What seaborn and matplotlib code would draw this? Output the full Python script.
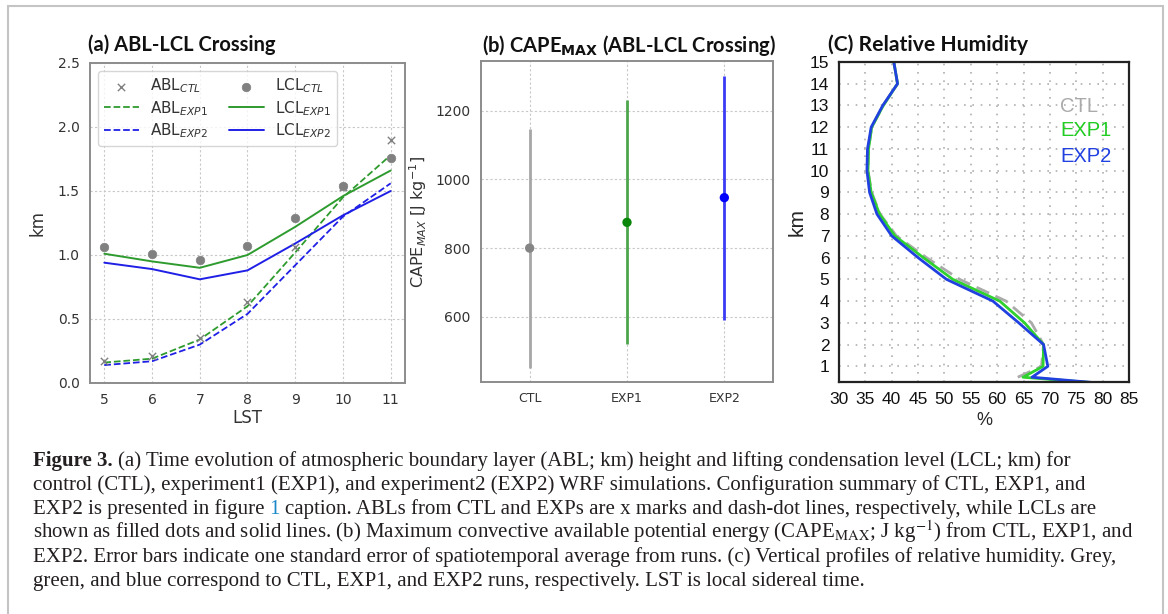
import matplotlib
matplotlib.use('Agg')
import matplotlib.pyplot as plt
import seaborn as sns
import numpy as np
import pandas as pd
from matplotlib.patches import Rectangle

W, H = 1168, 614

# ---------------- data ----------------
# Panel (a)
lst = [5, 6, 7, 8, 9, 10, 11]
abl_ctl = [0.17, 0.21, 0.35, 0.63, 1.06, 1.53, 1.90]
abl_exp1 = [0.16, 0.19, 0.34, 0.60, 1.02, 1.45, 1.78]
abl_exp2 = [0.14, 0.17, 0.30, 0.54, 0.92, 1.30, 1.56]
lcl_ctl = [1.06, 1.01, 0.96, 1.07, 1.29, 1.54, 1.76]
lcl_exp1 = [1.01, 0.95, 0.90, 1.00, 1.22, 1.46, 1.66]
lcl_exp2 = [0.94, 0.89, 0.81, 0.88, 1.09, 1.31, 1.50]

# Panel (b)
cases = ['CTL', 'EXP1', 'EXP2']
cape_mean = [800, 875, 947]
cape_se = [348, 355, 355]

# Panel (c)
height_km = [0.25, 0.5, 1, 2, 3, 4, 5, 6, 7, 8, 9, 10, 11, 12, 13, 14, 15]
rh_ctl = [np.nan, 63.9, 68.4, 68.8, 66.5, 61.7, 52.9, 46.6, 40.9, 37.8, 36.2,
          35.5, 35.6, 36.2, 38.4, 41.1, 40.4]
rh_exp1 = [78.0, 64.9, 68.7, 68.8, 65.2, 60.5, 51.6, 46.0, 40.6, 37.7, 36.1,
           35.5, 35.6, 36.2, 38.4, 41.1, 40.4]
rh_exp2 = [78.5, 66.6, 69.6, 68.8, 64.1, 59.2, 50.4, 45.0, 40.0, 37.2, 35.8,
           35.3, 35.4, 36.1, 38.3, 41.1, 40.4]

caption_bold = "Figure 3."
caption_lines = [
    "(a) Time evolution of atmospheric boundary layer (ABL; km) height and lifting condensation level (LCL; km) for",
    "control (CTL), experiment1 (EXP1), and experiment2 (EXP2) WRF simulations. Configuration summary of CTL, EXP1, and",
    None,
    r"shown as filled dots and solid lines. (b) Maximum convective available potential energy (CAPE$_{\mathrm{MAX}}$; J kg$^{-1}$) from CTL, EXP1, and",
    "EXP2. Error bars indicate one standard error of spatiotemporal average from runs. (c) Vertical profiles of relative humidity. Grey,",
    "green, and blue correspond to CTL, EXP1, and EXP2 runs, respectively. LST is local sidereal time.",
]
line3_parts = ["EXP2 is presented in figure", "1",
               "caption. ABLs from CTL and EXPs are x marks and dash-dot lines, respectively, while LCLs are"]

# ---------------- style ----------------
sns.set_style('white')
plt.rcParams['font.family'] = ['DejaVu Sans']

fig = plt.figure(figsize=(W / 100, H / 100), dpi=100)
fig.patch.set_facecolor('white')

def px_axes(l, t, r, b):
    return fig.add_axes([l / W, 1 - b / H, (r - l) / W, (b - t) / H])

GREEN = '#2e9b2e'
BLUE = '#1f1fe6'
GRAY = '#808080'
SPINE = '#8c8c8c'

def style_ab(ax):
    for s in ax.spines.values():
        s.set_color(SPINE)
        s.set_linewidth(1.4)
    ax.grid(True, color='#c8c8c8', linestyle=(0, (2, 2)), linewidth=0.8)
    ax.set_axisbelow(True)
    ax.tick_params(axis='both', direction='out', length=4, width=1,
                   color=SPINE, labelcolor='#333333', labelsize=10)
    for t in ax.get_xticklabels() + ax.get_yticklabels():
        t.set_family('DejaVu Sans')

# ---------------- panel (a) ----------------
axa = px_axes(90, 63, 405, 383)
sns.scatterplot(x=lst, y=abl_ctl, marker='x', color=GRAY, s=28, linewidth=1.0,
                label=r'ABL$_{CTL}$', ax=axa, zorder=4)
sns.lineplot(x=lst, y=abl_exp1, color=GREEN, linestyle='--', linewidth=1.3,
             label=r'ABL$_{EXP1}$', ax=axa)
sns.lineplot(x=lst, y=abl_exp2, color=BLUE, linestyle='--', linewidth=1.3,
             label=r'ABL$_{EXP2}$', ax=axa)
sns.scatterplot(x=lst, y=lcl_ctl, marker='o', color=GRAY, s=38, edgecolor=GRAY,
                label=r'LCL$_{CTL}$', ax=axa, zorder=4)
sns.lineplot(x=lst, y=lcl_exp1, color=GREEN, linewidth=1.4,
             label=r'LCL$_{EXP1}$', ax=axa)
sns.lineplot(x=lst, y=lcl_exp2, color=BLUE, linewidth=1.4,
             label=r'LCL$_{EXP2}$', ax=axa)
axa.set_xlim(4.7, 11.3)
axa.set_ylim(0, 2.5)
axa.set_xticks(lst)
axa.set_yticks([0.0, 0.5, 1.0, 1.5, 2.0, 2.5])
axa.set_yticklabels(['0.0', '0.5', '1.0', '1.5', '2.0', '2.5'])
style_ab(axa)
axa.set_xlabel('LST', fontsize=12, color='#333333', labelpad=1, family='DejaVu Sans')
axa.set_ylabel('km', fontsize=12, color='#333333', labelpad=8, family='DejaVu Sans')
h, l = axa.get_legend_handles_labels()
order = [l.index(k) for k in [r'ABL$_{CTL}$', r'ABL$_{EXP1}$', r'ABL$_{EXP2}$',
                              r'LCL$_{CTL}$', r'LCL$_{EXP1}$', r'LCL$_{EXP2}$']]
leg = axa.legend([h[i] for i in order], [l[i] for i in order], ncol=2,
                 loc='upper left', fontsize=11, handlelength=2.3, handletextpad=0.7,
                 columnspacing=1.4, borderaxespad=0.5, labelspacing=0.22,
                 borderpad=0.4, frameon=True, fancybox=True, scatterpoints=1)
leg.get_frame().set_edgecolor('#cccccc')
for t in leg.get_texts():
    t.set_color('#333333')
    t.set_family('DejaVu Sans')

# ---------------- panel (b) ----------------
axb = px_axes(481, 61, 773, 382)
bar_cols = ['#a6a6a6', '#4ca64c', '#3b3bf5']
dot_cols = ['#858585', '#0a870a', '#0000ff']
lo = [m - s for m, s in zip(cape_mean, cape_se)]
hi = [m + s for m, s in zip(cape_mean, cape_se)]
dfb = pd.DataFrame({'case': cases, 'cape': cape_mean})
sns.scatterplot(data=dfb, x='case', y='cape', hue='case', palette=dot_cols,
                s=45, edgecolor='none', legend=False, ax=axb, zorder=4)
axb.vlines(cases, lo, hi, colors=bar_cols, linewidth=2.0, zorder=3)
axb.set_xlim(-0.5, 2.5)
axb.set_ylim(410, 1345)
axb.set_yticks([600, 800, 1000, 1200])
style_ab(axb)
axb.tick_params(axis='x', labelsize=9)
axb.set_xlabel('')
axb.set_ylabel(r'CAPE$_{MAX}$ [J kg$^{-1}$]', fontsize=11.5, color='#333333',
               labelpad=5, family='DejaVu Sans')

# ---------------- panel (c) ----------------
axc = px_axes(839, 62, 1129, 382)
dfc = pd.DataFrame({'h': height_km, 'CTL': rh_ctl, 'EXP1': rh_exp1, 'EXP2': rh_exp2})
sns.lineplot(data=dfc, x='CTL', y='h', orient='y', estimator=None, sort=False,
             color='#aaaaaa', linewidth=2.0, linestyle=(0, (5, 2.5)), ax=axc)
sns.lineplot(data=dfc, x='EXP1', y='h', orient='y', estimator=None, sort=False,
             color='#2ed12e', linewidth=2.0, ax=axc)
sns.lineplot(data=dfc, x='EXP2', y='h', orient='y', estimator=None, sort=False,
             color='#2040e0', linewidth=2.0, ax=axc)
axc.set_xlim(30, 85)
axc.set_ylim(0.28, 15)
axc.set_xticks(list(range(30, 86, 5)))
axc.set_yticks(list(range(1, 16)))
axc.grid(True, color='#b0b0b0', linestyle=(0, (1, 4)), linewidth=1.2)
axc.set_axisbelow(True)
for s in axc.spines.values():
    s.set_color('#222222')
    s.set_linewidth(1.6)
axc.tick_params(axis='both', direction='out', length=5, width=1.2, color='#222222',
                labelsize=12.5, labelcolor='#111111', pad=2)
for t in axc.get_xticklabels() + axc.get_yticklabels():
    t.set_family('Liberation Sans')
axc.set_xlabel('%', fontsize=13, family='Liberation Sans', labelpad=4)
axc.set_ylabel('km', fontsize=15, family='Liberation Sans', labelpad=2)
for txt, col, yy in [('CTL', '#aaaaaa', 107), ('EXP1', '#22cc22', 131), ('EXP2', '#2040e0', 157)]:
    fig.text(1060 / W, 1 - yy / H, txt, color=col, fontsize=14.5,
             family='Liberation Sans', va='center', ha='left')

# ---------------- titles ----------------
tkw = dict(fontsize=14.5, fontweight='bold', family='Lato', va='center', color='#111111')
fig.text(88 / W, 1 - 45 / H, '(a) ABL-LCL Crossing', ha='left', **tkw)
fig.text(629 / W, 1 - 45 / H, r'(b) CAPE$_{\mathbf{MAX}}$ (ABL-LCL Crossing)', ha='center', **tkw)
fig.text(828 / W, 1 - 45 / H, '(C) Relative Humidity', ha='left', fontsize=15.2,
         fontweight='bold', family='Lato', va='center', color='#111111')

# ---------------- caption ----------------
cap = fig.add_axes([0, 0, 1, 1], zorder=-1)
cap.axis('off')
ckw = dict(fontsize=15.0, family='Liberation Serif', color='#231f20',
           math_fontfamily='stix', va='baseline', ha='left')
x0 = 33 / W
ys = [466, 490, 514, 538, 562, 586]
space_pt = 3.7
for i, line in enumerate(caption_lines):
    yb = 1 - ys[i] / H
    if i == 0:
        tb = fig.text(x0, yb, caption_bold, fontweight='bold', **ckw)
        cap.annotate(line, xy=(1, yb), xycoords=(tb, 'figure fraction'),
                     xytext=(space_pt, 0), textcoords='offset points', **ckw)
    elif line is not None:
        fig.text(x0, yb, line, **ckw)
    else:
        t1 = fig.text(x0, yb, line3_parts[0], **ckw)
        t2 = cap.annotate(line3_parts[1], xy=(1, yb), xycoords=(t1, 'figure fraction'),
                          xytext=(space_pt, 0), textcoords='offset points',
                          **{**ckw, 'color': '#1a88c9'})
        cap.annotate(line3_parts[2], xy=(1, yb), xycoords=(t2, 'figure fraction'),
                     xytext=(space_pt, 0), textcoords='offset points', **ckw)

# outer frame
fig.add_artist(Rectangle((8 / W, -0.1), (1163 - 8) / W, 0.1 + 1 - 6 / H,
                         transform=fig.transFigure, fill=False,
                         edgecolor='#c4c4c4', linewidth=1.5))

fig.savefig('out.png', dpi=100, facecolor='white')
